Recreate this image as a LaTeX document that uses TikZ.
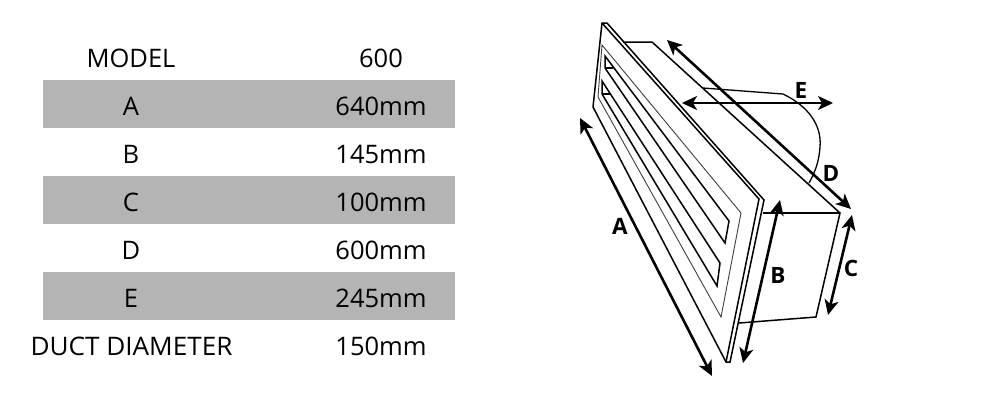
\documentclass[tikz,border=0pt]{standalone}
\usepackage{fontspec}
\setmainfont{Open Sans}
\usetikzlibrary{arrows.meta}
\definecolor{band}{HTML}{B4B4B4}
\tikzset{
  rowtext/.style={anchor=center,font=\fontsize{25.5}{26}\selectfont,text=black,inner sep=0pt},
  bandbox/.style={fill=band,draw=none},
  outline/.style={draw=black,line width=1.5pt,line join=miter},
  thinline/.style={draw=black!75,line width=0.9pt,line join=miter},
  dimarrow/.style={draw=black,line width=2.6pt,{Stealth[length=15pt,width=14pt,inset=4pt]}-{Stealth[length=15pt,width=14pt,inset=4pt]}},
  dimlabel/.style={font=\fontsize{22.5}{23}\selectfont\bfseries,inner sep=0pt,text=black}
}
\begin{document}
\begin{tikzpicture}[x=1pt,y=-1pt]
\useasboundingbox (0,0) rectangle (1000,400);
\fill[white] (0,0) rectangle (1000,400);
% table bands
\fill[bandbox] (43,80) rectangle (455,128);
\fill[bandbox] (43,176) rectangle (455,224);
\fill[bandbox] (43,272) rectangle (455,320);
% table text
\node[rowtext] (m0) at (131,58) {MODEL};   \node[rowtext] (v0) at (381,58) {600};
\node[rowtext] (m1) at (131,106) {A};      \node[rowtext] (v1) at (381,106) {640mm};
\node[rowtext] (m2) at (131,154) {B};      \node[rowtext] (v2) at (381,154) {145mm};
\node[rowtext] (m3) at (131,202) {C};      \node[rowtext] (v3) at (381,202) {100mm};
\node[rowtext] (m4) at (131,250) {D};      \node[rowtext] (v4) at (381,250) {600mm};
\node[rowtext] (m5) at (131,298) {E};      \node[rowtext] (v5) at (381,298) {245mm};
\node[rowtext,xscale=1.025] (m6) at (131.5,346) {DUCT DIAMETER}; \node[rowtext] (v6) at (381,346) {150mm};
% duct
\draw[outline] (623,42) -- (652,42) -- (840,213) -- (816,317) -- (739,323);
\draw[outline] (763,213) -- (840,213);
\draw[outline,line width=1.3pt] (703,88) -- (783,94) .. controls (808,106) and (822,125) .. (820,147) .. controls (819,162) and (815,172) .. (809,183);
% plate
\draw[outline] (602,23) -- (607,23) -- (764,200) -- (730,362) -- (726,362) -- (593,107) -- cycle;
\draw[outline] (602,23) -- (759,199) -- (726,362);
% thin frame
\draw[thinline] (602,45) -- (741,213) -- (721,317) -- (598,97) -- cycle;
% slots
\draw[outline] (605,56) -- (729,221) -- (725,243) -- (605,68) -- cycle;
\draw[outline] (605,68) -- (613,68);
\draw[outline] (602,81) -- (720,263) -- (717,286) -- (602,94) -- cycle;
\draw[outline] (602,94) -- (610,94);
% dimension arrows
\coordinate (a1) at (580,118); \coordinate (a2) at (712,376);
\coordinate (b1) at (780,200); \coordinate (b2) at (743,363);
\coordinate (c1) at (852,215); \coordinate (c2) at (828,315);
\coordinate (d1) at (667,40);  \coordinate (d2) at (851,209);
\coordinate (e1) at (682,103); \coordinate (e2) at (833,103);
\draw[dimarrow] (a1) -- (a2);
\draw[dimarrow] (b1) -- (b2);
\draw[dimarrow] (c1) -- (c2);
\draw[dimarrow] (d1) -- (d2);
\draw[dimarrow,line width=2pt] (e1) -- (e2);
% labels
\node[dimlabel] (la) at (620,226) {A};
\node[dimlabel] (lb) at (778,275) {B};
\node[dimlabel] (lc) at (851,268) {C};
\node[dimlabel] (ld) at (831,173) {D};
\node[dimlabel] (le) at (801,90) {E};
\end{tikzpicture}
\end{document}
